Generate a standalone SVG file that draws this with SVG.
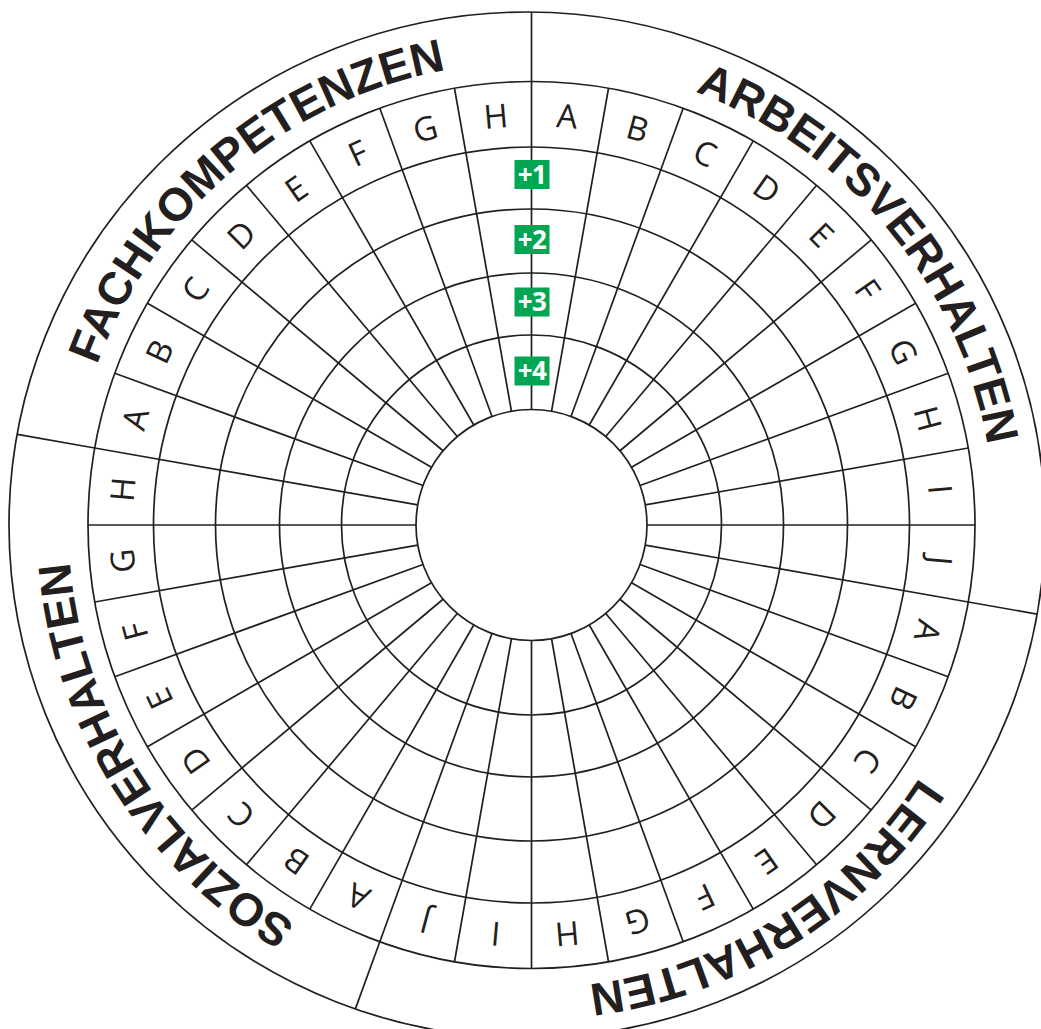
<svg xmlns="http://www.w3.org/2000/svg" xmlns:xlink="http://www.w3.org/1999/xlink" width="1041" height="1029" viewBox="0 0 1041 1029">
<style>
.ln{fill:none;stroke:#231f20;stroke-width:1.7}
.lt{font-family:"Open Sans","Noto Sans",sans-serif;font-weight:400;font-size:33px;fill:#231f20;text-anchor:middle}
.lb{font-family:"Liberation Sans",Arial,sans-serif;font-weight:bold;font-size:46px;fill:#231f20;text-anchor:middle}
.bg{fill:#00a651}
.bt{font-family:"Open Sans","Liberation Sans",sans-serif;font-weight:bold;font-size:26px;fill:#fff;text-anchor:middle;letter-spacing:-0.5px}
</style>
<defs>
<line id="sp" x1="531.5" y1="409.5" x2="531.5" y2="81.5"/>
<path id="arc" d="M531.5 62 A463 463 0 1 1 531.5 988 A463 463 0 1 1 531.5 62"/>
</defs>
<rect width="1041" height="1029" fill="#fff"/>
<g id="rings" class="ln">
<ellipse cx="527" cy="525" rx="518" ry="513"/>
<circle cx="531.5" cy="525" r="443.5"/>
<circle cx="531.5" cy="525" r="378"/>
<circle cx="531.5" cy="525" r="316"/>
<circle cx="531.5" cy="525" r="252"/>
<circle cx="531.5" cy="525" r="190"/>
<circle cx="531.5" cy="525" r="115.5"/>
</g>
<g id="connectors" class="ln">
<use xlink:href="#sp" transform="rotate(0 531.5 525)"/>
<use xlink:href="#sp" transform="rotate(10 531.5 525)"/>
<use xlink:href="#sp" transform="rotate(20 531.5 525)"/>
<use xlink:href="#sp" transform="rotate(30 531.5 525)"/>
<use xlink:href="#sp" transform="rotate(40 531.5 525)"/>
<use xlink:href="#sp" transform="rotate(50 531.5 525)"/>
<use xlink:href="#sp" transform="rotate(60 531.5 525)"/>
<use xlink:href="#sp" transform="rotate(70 531.5 525)"/>
<use xlink:href="#sp" transform="rotate(80 531.5 525)"/>
<use xlink:href="#sp" transform="rotate(90 531.5 525)"/>
<use xlink:href="#sp" transform="rotate(100 531.5 525)"/>
<use xlink:href="#sp" transform="rotate(110 531.5 525)"/>
<use xlink:href="#sp" transform="rotate(120 531.5 525)"/>
<use xlink:href="#sp" transform="rotate(130 531.5 525)"/>
<use xlink:href="#sp" transform="rotate(140 531.5 525)"/>
<use xlink:href="#sp" transform="rotate(150 531.5 525)"/>
<use xlink:href="#sp" transform="rotate(160 531.5 525)"/>
<use xlink:href="#sp" transform="rotate(170 531.5 525)"/>
<use xlink:href="#sp" transform="rotate(180 531.5 525)"/>
<use xlink:href="#sp" transform="rotate(190 531.5 525)"/>
<use xlink:href="#sp" transform="rotate(200 531.5 525)"/>
<use xlink:href="#sp" transform="rotate(210 531.5 525)"/>
<use xlink:href="#sp" transform="rotate(220 531.5 525)"/>
<use xlink:href="#sp" transform="rotate(230 531.5 525)"/>
<use xlink:href="#sp" transform="rotate(240 531.5 525)"/>
<use xlink:href="#sp" transform="rotate(250 531.5 525)"/>
<use xlink:href="#sp" transform="rotate(260 531.5 525)"/>
<use xlink:href="#sp" transform="rotate(270 531.5 525)"/>
<use xlink:href="#sp" transform="rotate(280 531.5 525)"/>
<use xlink:href="#sp" transform="rotate(290 531.5 525)"/>
<use xlink:href="#sp" transform="rotate(300 531.5 525)"/>
<use xlink:href="#sp" transform="rotate(310 531.5 525)"/>
<use xlink:href="#sp" transform="rotate(320 531.5 525)"/>
<use xlink:href="#sp" transform="rotate(330 531.5 525)"/>
<use xlink:href="#sp" transform="rotate(340 531.5 525)"/>
<use xlink:href="#sp" transform="rotate(350 531.5 525)"/>
<line x1="531.5" y1="81.5" x2="531.5" y2="12"/>
<line x1="968.3" y1="602" x2="1037" y2="614.1"/>
<line x1="379.8" y1="941.8" x2="355.4" y2="1008.9"/>
<line x1="94.7" y1="448" x2="17.4" y2="434.4"/>
</g>
<g id="arbeitsverhalten-cells" class="lt">
<text x="531.5" y="126.5" transform="rotate(5 531.5 525)">A</text>
<text x="531.5" y="126.5" transform="rotate(15 531.5 525)">B</text>
<text x="531.5" y="126.5" transform="rotate(25 531.5 525)">C</text>
<text x="531.5" y="126.5" transform="rotate(35 531.5 525)">D</text>
<text x="531.5" y="126.5" transform="rotate(45 531.5 525)">E</text>
<text x="531.5" y="126.5" transform="rotate(55 531.5 525)">F</text>
<text x="531.5" y="126.5" transform="rotate(65 531.5 525)">G</text>
<text x="531.5" y="126.5" transform="rotate(75 531.5 525)">H</text>
<text x="531.5" y="126.5" transform="rotate(85 531.5 525)">I</text>
<text x="531.5" y="126.5" transform="rotate(95 531.5 525)">J</text>
</g>
<g id="lernverhalten-cells" class="lt">
<text x="531.5" y="126.5" transform="rotate(105 531.5 525)">A</text>
<text x="531.5" y="126.5" transform="rotate(115 531.5 525)">B</text>
<text x="531.5" y="126.5" transform="rotate(125 531.5 525)">C</text>
<text x="531.5" y="126.5" transform="rotate(135 531.5 525)">D</text>
<text x="531.5" y="126.5" transform="rotate(145 531.5 525)">E</text>
<text x="531.5" y="126.5" transform="rotate(155 531.5 525)">F</text>
<text x="531.5" y="126.5" transform="rotate(165 531.5 525)">G</text>
<text x="531.5" y="126.5" transform="rotate(175 531.5 525)">H</text>
<text x="531.5" y="126.5" transform="rotate(185 531.5 525)">I</text>
<text x="531.5" y="126.5" transform="rotate(195 531.5 525)">J</text>
</g>
<g id="sozialverhalten-cells" class="lt">
<text x="531.5" y="126.5" transform="rotate(205 531.5 525)">A</text>
<text x="531.5" y="126.5" transform="rotate(215 531.5 525)">B</text>
<text x="531.5" y="126.5" transform="rotate(225 531.5 525)">C</text>
<text x="531.5" y="126.5" transform="rotate(235 531.5 525)">D</text>
<text x="531.5" y="126.5" transform="rotate(245 531.5 525)">E</text>
<text x="531.5" y="126.5" transform="rotate(255 531.5 525)">F</text>
<text x="531.5" y="126.5" transform="rotate(265 531.5 525)">G</text>
<text x="531.5" y="126.5" transform="rotate(275 531.5 525)">H</text>
</g>
<g id="fachkompetenzen-cells" class="lt">
<text x="531.5" y="126.5" transform="rotate(285 531.5 525)">A</text>
<text x="531.5" y="126.5" transform="rotate(295 531.5 525)">B</text>
<text x="531.5" y="126.5" transform="rotate(305 531.5 525)">C</text>
<text x="531.5" y="126.5" transform="rotate(315 531.5 525)">D</text>
<text x="531.5" y="126.5" transform="rotate(325 531.5 525)">E</text>
<text x="531.5" y="126.5" transform="rotate(335 531.5 525)">F</text>
<text x="531.5" y="126.5" transform="rotate(345 531.5 525)">G</text>
<text x="531.5" y="126.5" transform="rotate(355 531.5 525)">H</text>
</g>
<g id="labels" class="lb">
<text><textPath xlink:href="#arc" startOffset="14%">ARBEITSVERHALTEN</textPath></text>
<text><textPath xlink:href="#arc" startOffset="41.11%">LERNVERHALTEN</textPath></text>
<text><textPath xlink:href="#arc" startOffset="66.11%">SOZIALVERHALTEN</textPath></text>
<text><textPath xlink:href="#arc" startOffset="88.83%">FACHKOMPETENZEN</textPath></text>
</g>
<g id="badge1"><rect class="bg" x="514.5" y="160" width="35" height="29"/><text class="bt" x="532" y="183.5">+1</text></g>
<g id="badge2"><rect class="bg" x="514.5" y="225" width="35" height="29"/><text class="bt" x="532" y="248.5">+2</text></g>
<g id="badge3"><rect class="bg" x="514.5" y="287.5" width="35" height="29"/><text class="bt" x="532" y="311">+3</text></g>
<g id="badge4"><rect class="bg" x="514.5" y="356.5" width="35" height="29"/><text class="bt" x="532" y="380">+4</text></g>
</svg>
